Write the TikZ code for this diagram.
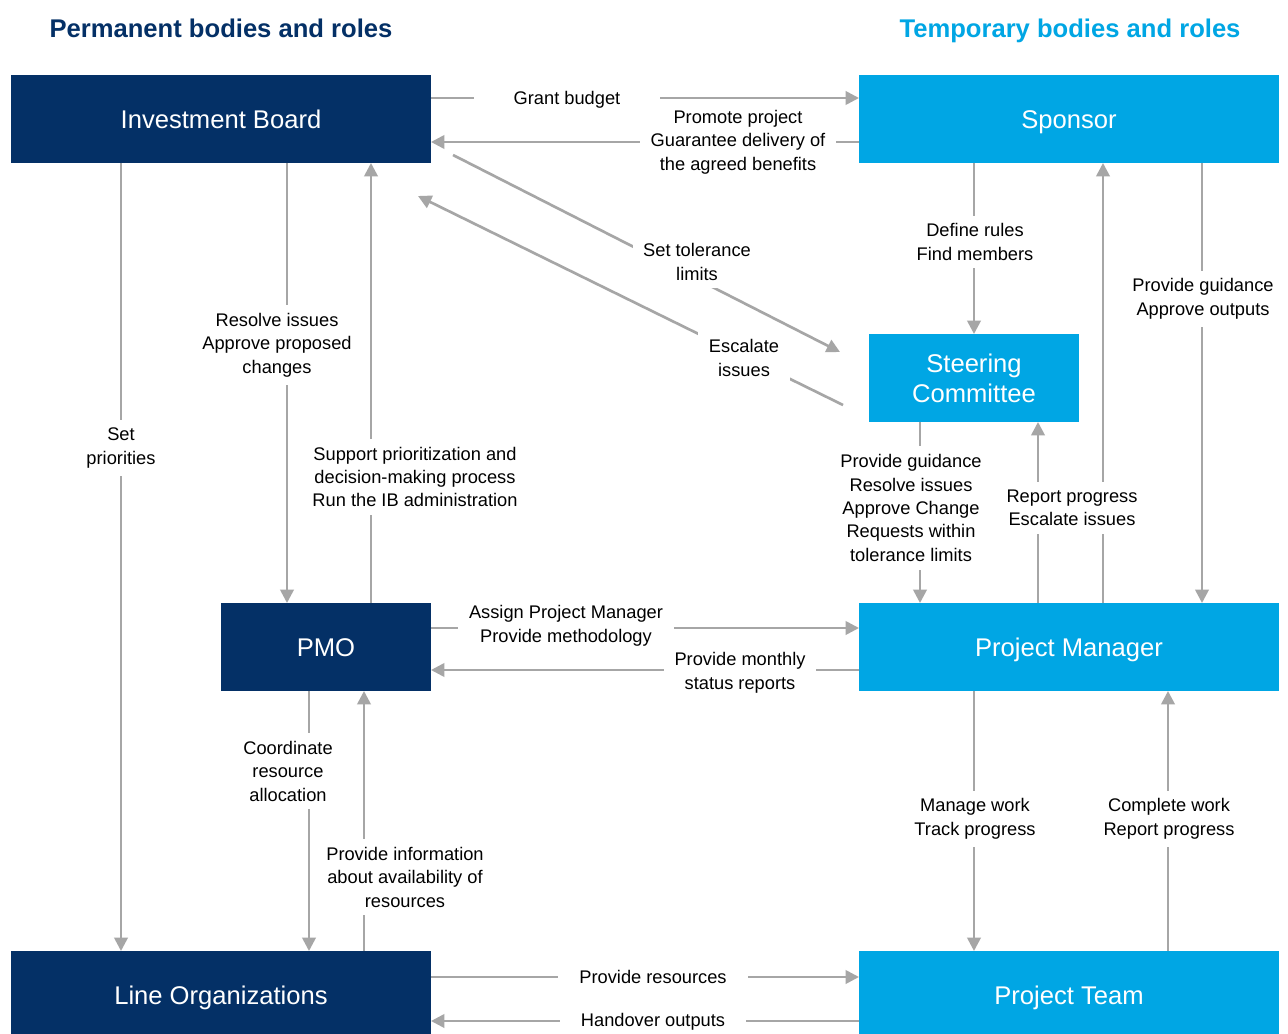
\documentclass[tikz,border=0pt]{standalone}
\usepackage{fontspec}
\setmainfont{Liberation Sans}
\usetikzlibrary{arrows.meta,calc}
\definecolor{navy}{RGB}{4,48,102}
\definecolor{sky}{RGB}{0,166,228}
\definecolor{arrowgray}{RGB}{166,166,166}

\begin{document}
\begin{tikzpicture}[x=0.75pt,y=-0.75pt,
  box/.style={minimum width=315pt,minimum height=66pt,inner sep=0pt,outer sep=0pt,
    text=white,font=\fontsize{19.2}{22.5}\selectfont,align=center},
  oneline/.style={text height=13.8pt,text depth=0pt},
  perm/.style={box,fill=navy},
  temp/.style={box,fill=sky},
  flow/.style={draw=arrowgray,line width=2pt,-{Triangle[length=10pt,width=10pt]}},
  lbl/.style={fill=white,inner xsep=8pt,inner ysep=6pt,align=center,
    font=\fontsize{13.7}{17.6}\selectfont,text=black},
  single/.style={text height=9.8pt,text depth=0pt,inner ysep=8pt},
  title/.style={font=\bfseries\fontsize{19.2}{23}\selectfont,text height=13.8pt,text depth=0pt}]

% page area
\clip (0,0) rectangle (1288,1034);
\fill[white] (0,0) rectangle (1288,1034);

% column headings
\node[title,text=navy] (tperm) at (221,28) {Permanent bodies and roles};
\node[title,text=sky]  (ttemp) at (1070,28) {Temporary bodies and roles};

% bodies and roles
\node[perm,oneline] (ib)  at (221,119)  {Investment Board};
\node[temp,oneline] (sp)  at (1069,119) {Sponsor};
\node[temp,minimum width=157.5pt] (sc)  at (974,378) {Steering\\Committee};
\node[perm,oneline,minimum width=157.5pt] (pmo) at (326,647) {PMO};
\node[temp,oneline] (pm)  at (1069,647) {Project Manager};
\node[perm,oneline] (lo)  at (221,995)  {Line Organizations};
\node[temp,oneline] (pt)  at (1069,995) {Project Team};

% free ends of the diagonal links
\coordinate (ibd1) at ($(ib.south east)+(22,-8)$);
\coordinate (scu1) at ($(sc.west)+(-29,-26)$);
\coordinate (sce)  at ($(sc.west)+(-26,27)$);
\coordinate (ibd2) at ($(ib.south east)+(-13,33)$);

% Investment Board <-> Sponsor
\draw[flow] ($(ib.north east)+(0,23)$) -- ($(sp.north west)+(0,23)$);
\draw[flow] ($(sp.north west)+(0,67)$) -- ($(ib.north east)+(0,67)$);

% Investment Board <-> Steering Committee
\draw[flow] (ibd1) -- (scu1);
\draw[flow] (sce) -- (ibd2);

% Investment Board <-> Line Organizations / PMO
\draw[flow] ($(ib.south west)+(110,0)$) -- ($(lo.north west)+(110,0)$);
\draw[flow] ($(ib.south west)+(276,0)$) -- ($(pmo.north west)+(66,0)$);
\draw[flow] ($(pmo.north west)+(150,0)$) -- ($(ib.south west)+(360,0)$);

% Sponsor <-> Steering Committee / Project Manager
\draw[flow] ($(sp.south west)+(115,0)$) -- (sc.north);
\draw[flow] ($(sp.south west)+(343,0)$) -- ($(pm.north west)+(343,0)$);
\draw[flow] ($(pm.north west)+(244,0)$) -- ($(sp.south west)+(244,0)$);

% Steering Committee <-> Project Manager
\draw[flow] ($(pm.north west)+(179,0)$) -- ($(sc.south west)+(169,0)$);
\draw[flow] ($(sc.south west)+(51,0)$) -- ($(pm.north west)+(61,0)$);

% PMO <-> Project Manager
\draw[flow] ($(pmo.north east)+(0,25)$) -- ($(pm.north west)+(0,25)$);
\draw[flow] ($(pm.north west)+(0,67)$) -- ($(pmo.north east)+(0,67)$);

% PMO <-> Line Organizations
\draw[flow] ($(pmo.south west)+(88,0)$) -- ($(lo.north west)+(298,0)$);
\draw[flow] ($(lo.north west)+(353,0)$) -- ($(pmo.south west)+(143,0)$);

% Project Manager <-> Project Team
\draw[flow] ($(pm.south west)+(115,0)$) -- ($(pt.north west)+(115,0)$);
\draw[flow] ($(pt.north west)+(309,0)$) -- ($(pm.south west)+(309,0)$);

% Line Organizations <-> Project Team
\draw[flow] ($(lo.north east)+(0,26)$) -- ($(pt.north west)+(0,26)$);
\draw[flow] ($(pt.north west)+(0,70)$) -- ($(lo.north east)+(0,70)$);

% link labels
\node[lbl,single,inner xsep=30pt] (l1) at (567,98) {Grant budget};
\node[lbl] (l2)  at (738,142)  {Promote project\\Guarantee delivery of\\the agreed benefits};
\node[lbl] (l3)  at (697,262)  {Set tolerance\\limits};
\node[lbl] (l4)  at (744,358)  {Escalate\\issues};
\node[lbl] (l5)  at (121,448)  {Set\\priorities};
\node[lbl] (l6)  at (277,345)  {Resolve issues\\Approve proposed\\changes};
\node[lbl] (l7)  at (415,477)  {Support prioritization and\\decision-making process\\Run the IB administration};
\node[lbl] (l8)  at (975,242)  {Define rules\\Find members};
\node[lbl] (l9)  at (1203,299) {Provide guidance\\Approve outputs};
\node[lbl] (l10) at (1072,508) {Report progress\\Escalate issues};
\node[lbl] (l11) at (911,508)  {Provide guidance\\Resolve issues\\Approve Change\\Requests within\\tolerance limits};
\node[lbl] (l12) at (566,626)  {Assign Project Manager\\Provide methodology};
\node[lbl] (l13) at (740,673)  {Provide monthly\\status reports};
\node[lbl] (l14) at (288,771)  {Coordinate\\resource\\allocation};
\node[lbl] (l15) at (405,877)  {Provide information\\about availability of\\resources};
\node[lbl] (l16) at (975,819)  {Manage work\\Track progress};
\node[lbl] (l17) at (1169,819) {Complete work\\Report progress};
\node[lbl,single,inner xsep=16pt] (l18) at (653,977)  {Provide resources};
\node[lbl,single,inner xsep=16pt] (l19) at (653,1020) {Handover outputs};

\end{tikzpicture}
\end{document}
